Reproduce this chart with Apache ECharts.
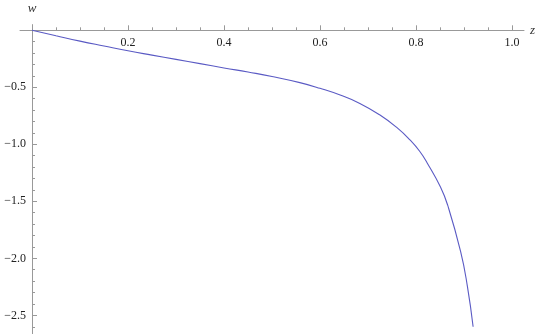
<!DOCTYPE html>
<html>
<head>
<meta charset="utf-8">
<script src="https://cdn.jsdelivr.net/npm/echarts@6/dist/echarts.min.js"></script>
<style>html,body{margin:0;padding:0;background:#fff}#c{width:540px;height:335px}</style>
</head>
<body>
<div id="c"></div>
<script>
const zValues = [0, 0.05, 0.1, 0.15, 0.2, 0.25, 0.3, 0.35, 0.4, 0.45, 0.5, 0.558, 0.6, 0.642, 0.683, 0.725, 0.761, 0.788, 0.808, 0.823, 0.851, 0.866, 0.893, 0.907, 0.919];
const wValues = [0, -0.048, -0.095, -0.138, -0.18, -0.218, -0.255, -0.292, -0.33, -0.366, -0.405, -0.459, -0.509, -0.568, -0.641, -0.743, -0.856, -0.964, -1.063, -1.161, -1.374, -1.534, -1.942, -2.243, -2.60];
const xMajorTicks = [0.2, 0.4, 0.6, 0.8, 1.0];
const xMinorTicks = [0, 0.05, 0.1, 0.15, 0.25, 0.3, 0.35, 0.45, 0.5, 0.55, 0.65, 0.7, 0.75, 0.85, 0.9, 0.95];
const yMajorTicks = [-0.5, -1.0, -1.5, -2.0, -2.5];
const yMinorTicks = [-0.1, -0.2, -0.3, -0.4, -0.6, -0.7, -0.8, -0.9, -1.1, -1.2, -1.3, -1.4, -1.6, -1.7, -1.8, -1.9, -2.1, -2.2, -2.3, -2.4, -2.6];
const xRange = [-0.025, 1.025];
const yRange = [-2.66, 0.05];

const gridLeft = 20, gridTop = 24.6, gridW = 504, gridH = 309;
// offsets placing each axis line on the other axis' zero
const xAxisOffset = -(yRange[1] - 0) / (yRange[1] - yRange[0]) * gridH;
const yAxisOffset = -(0 - xRange[0]) / (xRange[1] - xRange[0]) * gridW;

const axisColor = '#999999';
const serif = 'Liberation Serif, DejaVu Serif, serif';
const labelFont = { fontFamily: serif, fontSize: 12, color: '#222' };
const fmt1 = v => (v < 0 ? '\u2212' : '') + Math.abs(v).toFixed(1);

const chart = echarts.init(document.getElementById('c'));
chart.setOption({
  animation: false,
  backgroundColor: '#fff',
  grid: { left: gridLeft, top: gridTop, width: gridW, height: gridH, containLabel: false, outerBoundsMode: 'none' },
  xAxis: [
    {
      type: 'value', min: xRange[0], max: xRange[1], position: 'top', offset: xAxisOffset,
      axisLine: { onZero: false, lineStyle: { color: axisColor, width: 1 } },
      axisTick: { show: true, inside: false, length: 5, customValues: xMajorTicks, lineStyle: { color: axisColor } },
      axisLabel: Object.assign({ show: true, inside: true, customValues: xMajorTicks, margin: 7, formatter: fmt1 }, labelFont),
      splitLine: { show: false },
      name: 'z', nameLocation: 'end', nameGap: 6,
      nameTextStyle: { fontFamily: serif, fontStyle: 'italic', fontSize: 13, color: '#333' }
    },
    {
      type: 'value', min: xRange[0], max: xRange[1], position: 'top', offset: xAxisOffset,
      axisLine: { show: false, onZero: false },
      axisTick: { show: true, inside: false, length: 3, customValues: xMinorTicks, lineStyle: { color: axisColor } },
      axisLabel: { show: false },
      splitLine: { show: false }
    }
  ],
  yAxis: [
    {
      type: 'value', min: yRange[0], max: yRange[1], position: 'left', offset: yAxisOffset,
      axisLine: { onZero: false, lineStyle: { color: axisColor, width: 1 } },
      axisTick: { show: true, inside: true, length: 5, customValues: yMajorTicks, lineStyle: { color: axisColor } },
      axisLabel: Object.assign({ show: true, customValues: yMajorTicks, margin: 6, formatter: fmt1 }, labelFont),
      splitLine: { show: false },
      name: 'w', nameLocation: 'end', nameGap: 10,
      nameTextStyle: { fontFamily: serif, fontStyle: 'italic', fontSize: 13, color: '#333', align: 'center' }
    },
    {
      type: 'value', min: yRange[0], max: yRange[1], position: 'left', offset: yAxisOffset,
      axisLine: { show: false, onZero: false },
      axisTick: { show: true, inside: true, length: 3, customValues: yMinorTicks, lineStyle: { color: axisColor } },
      axisLabel: { show: false },
      splitLine: { show: false }
    }
  ],
  series: [{
    type: 'line',
    xAxisIndex: 0, yAxisIndex: 0,
    data: zValues.map((z, i) => [z, wValues[i]]),
    smooth: 0.5,
    showSymbol: false,
    lineStyle: { color: '#5a5ac4', width: 1.1 },
    clip: false
  }]
});
</script>
</body>
</html>
